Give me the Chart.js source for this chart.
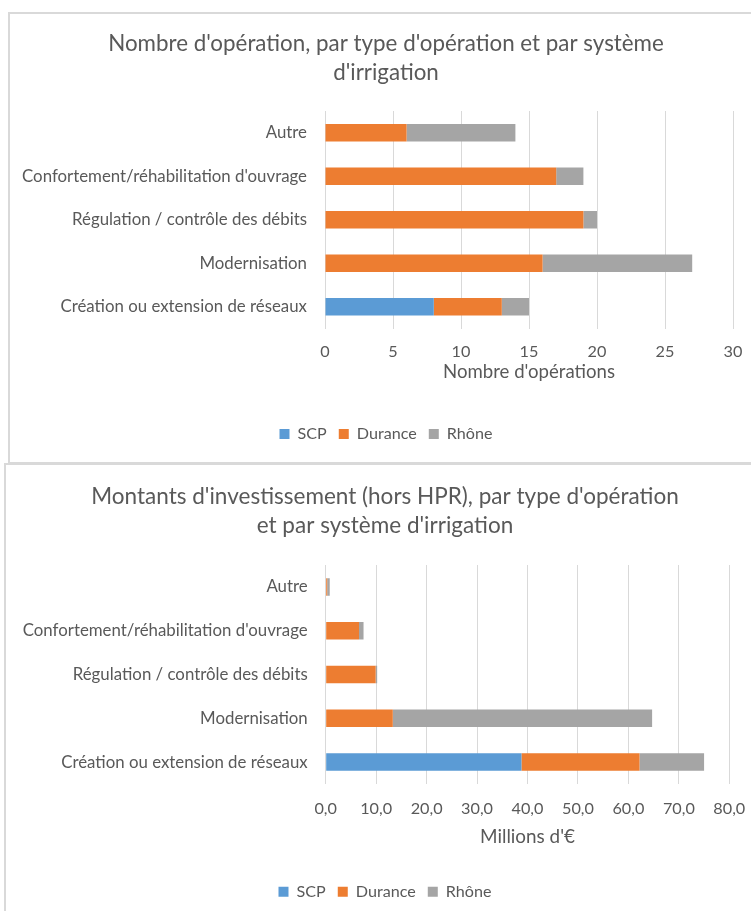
<!DOCTYPE html>
<html><head><meta charset="utf-8">
<script src="https://cdn.jsdelivr.net/npm/chart.js@4"></script>
<style>
html,body{margin:0;padding:0;background:#fff;width:751px;height:911px;overflow:hidden;position:relative}
.box{position:absolute;border:2px solid #d9d9d9;box-sizing:border-box}
canvas{position:absolute;left:0}
</style></head><body>
<div class="box" style="left:8px;top:12px;width:800px;height:452px"></div>
<div class="box" style="left:4px;top:463px;width:800px;height:500px"></div>
<canvas id="c1" width="770" height="462" style="top:0"></canvas>
<canvas id="c2" width="770" height="460" style="top:462px"></canvas>
<script>
// ---- data ----
const categories = ["Autre", "Confortement/réhabilitation d'ouvrage", "Régulation / contrôle des débits", "Modernisation", "Création ou extension de réseaux"];
const seriesNames = ["SCP", "Durance", "Rhône"];
const opsSCP = [0, 0, 0, 0, 8];
const opsDurance = [6, 17, 19, 16, 5];
const opsRhone = [8, 2, 1, 11, 2];
const opsTickLabels = ["0", "5", "10", "15", "20", "25", "30"];
const invSCP = [0, 0, 0, 0, 38.8];
const invDurance = [0.3, 6.6, 9.9, 13.3, 23.4];
const invRhone = [0.5, 0.9, 0.3, 51.4, 12.8];
const invTickLabels = ["0,0", "10,0", "20,0", "30,0", "40,0", "50,0", "60,0", "70,0", "80,0"];
const opsTitle = ["Nombre d'opération, par type d'opération et par système", "d'irrigation"];
const invTitle = ["Montants d'investissement (hors HPR), par type d'opération", "et par système d'irrigation"];
const opsAxisTitle = "Nombre d'opérations";
const invAxisTitle = "Millions d'€";

// ---- styles ----
const colors = ["#5B9BD5", "#ED7D31", "#A5A5A5"];
const TXT = "#595959";
const FAM = 'Lato, "Open Sans", sans-serif';
const mctx = document.createElement('canvas').getContext('2d');
function fit(text, target) { mctx.font = '100px ' + FAM; return 100 * target / mctx.measureText(text).width; }
const labelSize = fit(categories[1], 285);
const titleSize1 = fit(opsTitle[0], 556);
const titleSize2 = fit(invTitle[0], 588);
const legendSize = fit(seriesNames[1], 60);
const tickSize = (fit("10,0", 31.7) + fit("10", 19)) / 2;
const axisSize1 = fit(opsAxisTitle, 172);
const axisSize2 = fit(invAxisTitle, 95);

function build(id, values, tickLabels, maxV, step, title, axisTitle, titleSize, axisSize, g) {
  const fs = legendSize;
  const P = 12;
  const H = g.legendCenter - g.chartBottom - P - fs / 2;
  const tickPad = g.tickCenter - g.chartBottom - 10;
  const axTitlePb = g.chartBottom + H - 10 - g.axisTitleCenter;
  const padBottom = g.canvasH - (g.chartBottom + H + fs + P + 10);
  new Chart(document.getElementById(id), {
    type: 'bar',
    data: {
      labels: categories,
      datasets: seriesNames.map((n, i) => ({
        label: n, data: values[i], backgroundColor: colors[i], borderWidth: 0,
        barPercentage: 0.4, categoryPercentage: 1
      }))
    },
    options: {
      indexAxis: 'y', responsive: false, animation: false,
      layout: { padding: { left: g.padL, right: g.padR, top: 0, bottom: padBottom } },
      plugins: {
        title: { display: true, text: title, color: TXT,
          font: { family: FAM, size: titleSize, weight: 'normal', lineHeight: '29px' },
          padding: { top: g.titleTop, bottom: g.titleBottom } },
        legend: { position: 'bottom',
          labels: { boxWidth: 10, boxHeight: 10, padding: P, color: TXT, font: { family: FAM, size: fs } } },
        tooltip: { enabled: false }
      },
      scales: {
        x: {
          stacked: true, min: 0, max: maxV,
          ticks: { stepSize: step, padding: tickPad, color: TXT, maxRotation: 0, autoSkip: false,
            font: { family: FAM, size: tickSize, lineHeight: '20px' },
            callback: (v, i) => tickLabels[i] },
          grid: { color: '#d9d9d9', drawTicks: false },
          border: { display: false },
          title: { display: true, text: axisTitle, color: TXT,
            font: { family: FAM, size: axisSize, lineHeight: '20px' },
            padding: { top: 0, bottom: axTitlePb } },
          afterFit: s => { s.height = H; s.paddingRight = g.xPadR; }
        },
        y: {
          stacked: true,
          ticks: { padding: 18, color: TXT, font: { family: FAM, size: labelSize } },
          grid: { display: false, drawTicks: false },
          border: { display: false },
          afterFit: s => { s.width = g.yW; }
        }
      }
    }
  });
}

build('c1', [opsSCP, opsDurance, opsRhone], opsTickLabels, 30, 5, opsTitle, opsAxisTitle, titleSize1, axisSize1,
  { padL: 10, padR: 8, xPadR: 37, titleTop: 29, titleBottom: 24, chartBottom: 328.5, tickCenter: 351.7,
    axisTitleCenter: 371.7, legendCenter: 434, canvasH: 462, yW: 315 });
build('c2', [invSCP, invDurance, invRhone], invTickLabels, 80, 10, invTitle, invAxisTitle, titleSize2, axisSize2,
  { padL: 10, padR: 10, xPadR: 40.7, titleTop: 20.2, titleBottom: 24.8, chartBottom: 322, tickCenter: 346.3,
    axisTitleCenter: 375.3, legendCenter: 429.7, canvasH: 460, yW: 315.7 });
</script>
</body></html>
